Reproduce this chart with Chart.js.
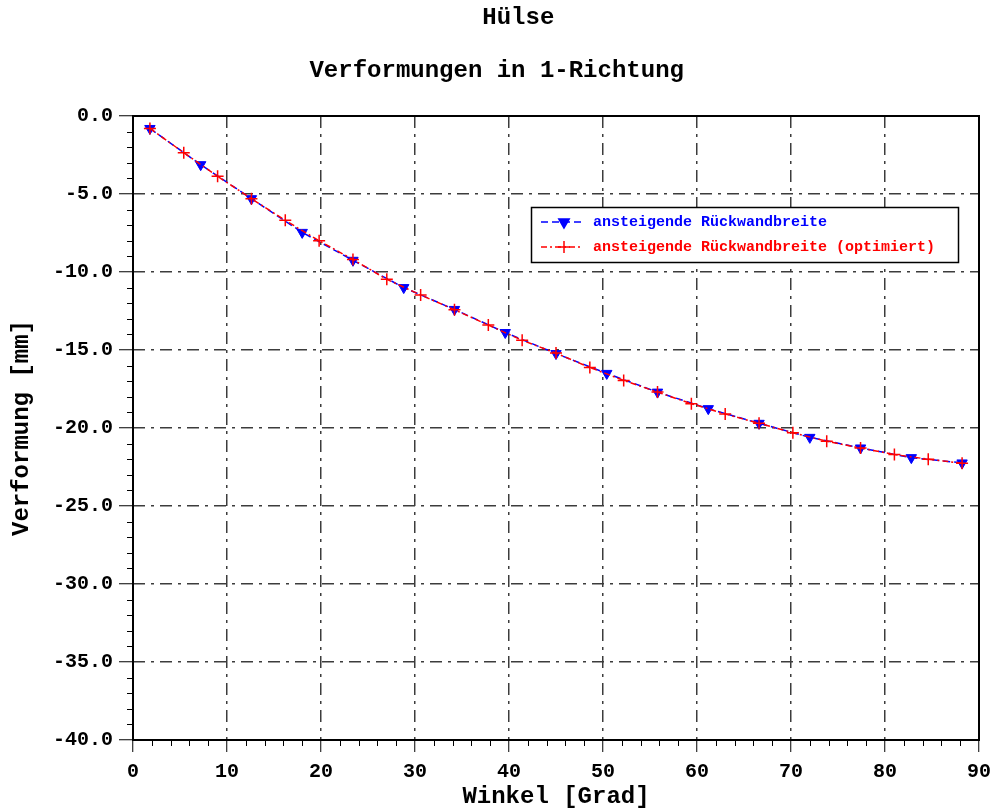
<!DOCTYPE html>
<html>
<head>
<meta charset="utf-8">
<title>Hülse</title>
<script src="https://cdn.jsdelivr.net/npm/chart.js@4/dist/chart.umd.min.js"></script>
<style>
  html, body { margin: 0; padding: 0; background: #fff; }
  #wrap { width: 995px; height: 809px; }
</style>
</head>
<body>
<div id="wrap"><canvas id="defChart" width="995" height="809"></canvas></div>
<script>
// Winkel [Grad] und Verformung [mm], Rückwandbreite ansteigend
const angles = [1.8, 7.2, 12.6, 18.0, 23.4, 28.8, 34.2, 39.6, 45.0, 50.4, 55.8, 61.2, 66.6, 72.0, 77.4, 82.8, 88.2];
const deform = [-0.8, -3.12, -5.3, -7.46, -9.25, -11.0, -12.4, -13.88, -15.23, -16.5, -17.7, -18.76, -19.7, -20.6, -21.28, -21.9, -22.24];

// optimierte Variante, feiner abgetastet
const anglesOpt = [1.8, 5.4, 9.0, 12.6, 16.2, 19.8, 23.4, 27.0, 30.6, 34.2, 37.8, 41.4, 45.0, 48.6, 52.2, 55.8, 59.4, 63.0, 66.6, 70.2, 73.8, 77.4, 81.0, 84.6, 88.2];
const deformOpt = [-0.8, -2.35, -3.87, -5.3, -6.69, -8.0, -9.2, -10.47, -11.47, -12.42, -13.4, -14.38, -15.2, -16.12, -16.95, -17.7, -18.44, -19.1, -19.7, -20.3, -20.85, -21.28, -21.7, -22.0, -22.26];

const seriesNames = ['ansteigende Rückwandbreite', 'ansteigende Rückwandbreite (optimiert)'];
const xTicks = [0, 10, 20, 30, 40, 50, 60, 70, 80, 90];
const yTicks = [0, -5, -10, -15, -20, -25, -30, -35, -40];

const mono = "'Liberation Mono', 'DejaVu Sans Mono', monospace";

function toPoints(xs, ys) {
  return xs.map((x, i) => ({ x: x, y: ys[i] }));
}

// Rahmen um das Diagramm und kleine Zwischenstriche an den Achsen
const framePlugin = {
  id: 'frame',
  beforeDatasetsDraw(chart) {
    const { ctx, chartArea: a, scales } = chart;
    ctx.save();
    ctx.strokeStyle = '#000';
    ctx.lineWidth = 1;
    ctx.beginPath();
    for (let v = scales.x.min; v <= scales.x.max; v += 2) {
      if (v % 10 === 0) continue;
      const px = Math.round(scales.x.getPixelForValue(v)) + 0.5;
      ctx.moveTo(px, a.bottom);
      ctx.lineTo(px, a.bottom + 6);
    }
    for (let v = scales.y.min; v <= scales.y.max; v += 1) {
      if (v % 5 === 0) continue;
      const py = Math.round(scales.y.getPixelForValue(v)) + 0.5;
      ctx.moveTo(a.left - 6, py);
      ctx.lineTo(a.left, py);
    }
    ctx.stroke();
    ctx.lineWidth = 2;
    ctx.strokeRect(a.left, a.top, a.right - a.left, a.bottom - a.top);
    ctx.restore();
  }
};

// Legende im Diagrammfeld: Linienmuster, Marker, farbiger Text
const boxLegend = {
  id: 'boxLegend',
  afterDatasetsDraw(chart) {
    const { ctx, chartArea: a } = chart;
    const left = a.left + 398, top = a.top + 91, w = 427, h = 55;
    ctx.save();
    ctx.fillStyle = '#fff';
    ctx.fillRect(left, top, w, h);
    ctx.strokeStyle = '#000';
    ctx.lineWidth = 1.5;
    ctx.strokeRect(left + 0.5, top + 0.5, w, h);
    const order = [1, 0];
    order.forEach((di, row) => {
      const ds = chart.data.datasets[di];
      const y = top + 15 + row * 25;
      ctx.strokeStyle = ds.borderColor;
      ctx.fillStyle = ds.borderColor;
      ctx.lineWidth = 1.5;
      ctx.setLineDash(ds.borderDash);
      ctx.beginPath();
      ctx.moveTo(left + 10, y);
      ctx.lineTo(left + 50, y);
      ctx.stroke();
      ctx.setLineDash([]);
      Chart.helpers.drawPoint(ctx, {
        pointStyle: ds.pointStyle,
        radius: ds.pointRadius,
        rotation: ds.pointRotation || 0,
        borderWidth: ds.pointBorderWidth
      }, left + 33, y);
      ctx.font = 'bold 15px ' + mono;
      ctx.textBaseline = 'middle';
      ctx.fillText(ds.label, left + 62, y);
    });
    ctx.restore();
  }
};

function initChart() {
  const ctx = document.getElementById('defChart').getContext('2d');
  new Chart(ctx, {
    type: 'line',
    data: {
      datasets: [{
        label: seriesNames[1],
        data: toPoints(anglesOpt, deformOpt),
        borderColor: '#ff0000',
        backgroundColor: '#ff0000',
        borderWidth: 1.5,
        borderDash: [6, 3, 2, 3],
        pointStyle: 'cross',
        pointRadius: 6,
        pointBorderWidth: 1.5,
        pointBorderColor: '#ff0000',
        tension: 0,
        fill: false,
        order: 0
      }, {
        label: seriesNames[0],
        data: toPoints(angles, deform),
        borderColor: '#0000ff',
        backgroundColor: '#0000ff',
        borderWidth: 1.5,
        borderDash: [7, 4],
        pointStyle: 'triangle',
        pointRotation: 180,
        pointRadius: 6,
        pointBorderWidth: 1,
        pointBorderColor: '#0000ff',
        pointBackgroundColor: '#0000ff',
        tension: 0,
        fill: false,
        order: 1
      }]
    },
    options: {
      responsive: false,
      animation: false,
      layout: { padding: { left: 0, right: 16, top: 0, bottom: 0 } },
      plugins: {
        legend: { display: false },
        tooltip: { enabled: false },
        title: {
          display: true,
          text: '    Hülse',
          color: '#000',
          font: { family: mono, size: 24, weight: 'bold', lineHeight: 1 },
          padding: { top: 6, bottom: 29 }
        },
        subtitle: {
          display: true,
          text: ' Verformungen in 1-Richtung',
          color: '#000',
          font: { family: mono, size: 24, weight: 'bold', lineHeight: 1 },
          padding: { top: 0, bottom: 33 }
        }
      },
      scales: {
        x: {
          type: 'linear',
          min: 0,
          max: 90,
          afterBuildTicks: s => { s.ticks = xTicks.map(v => ({ value: v })); },
          afterFit: s => { s.height = 69; s.paddingRight = 0; s.paddingLeft = 0; },
          ticks: {
            color: '#000',
            padding: 8,
            maxRotation: 0,
            font: { family: mono, size: 20, weight: 'bold' },
            callback: v => String(v)
          },
          grid: {
            color: '#3c3c3c',
            lineWidth: 1.5,
            tickColor: '#000',
            tickLength: 12,
            tickWidth: 1
          },
          border: { display: false, dash: [12, 6, 3, 6] },
          title: {
            display: true,
            text: 'Winkel [Grad]',
            color: '#000',
            font: { family: mono, size: 24, weight: 'bold', lineHeight: 1 },
            padding: { top: 0, bottom: 0 }
          }
        },
        y: {
          type: 'linear',
          min: -40,
          max: 0,
          afterBuildTicks: s => { s.ticks = yTicks.map(v => ({ value: v })); },
          afterFit: s => { s.width = 133; },
          ticks: {
            color: '#000',
            padding: 6,
            font: { family: mono, size: 20, weight: 'bold' },
            callback: v => Number(v).toFixed(1)
          },
          grid: {
            color: '#3c3c3c',
            lineWidth: 1.5,
            tickColor: '#000',
            tickLength: 14,
            tickWidth: 1
          },
          border: { display: false, dash: [12, 6, 3, 6] },
          title: {
            display: true,
            text: 'Verformung [mm]',
            color: '#000',
            font: { family: mono, size: 24, weight: 'bold', lineHeight: 1 },
            padding: { top: 10, bottom: 0 }
          }
        }
      }
    },
    plugins: [framePlugin, boxLegend]
  });
}

window.onload = initChart;
</script>
</body>
</html>
